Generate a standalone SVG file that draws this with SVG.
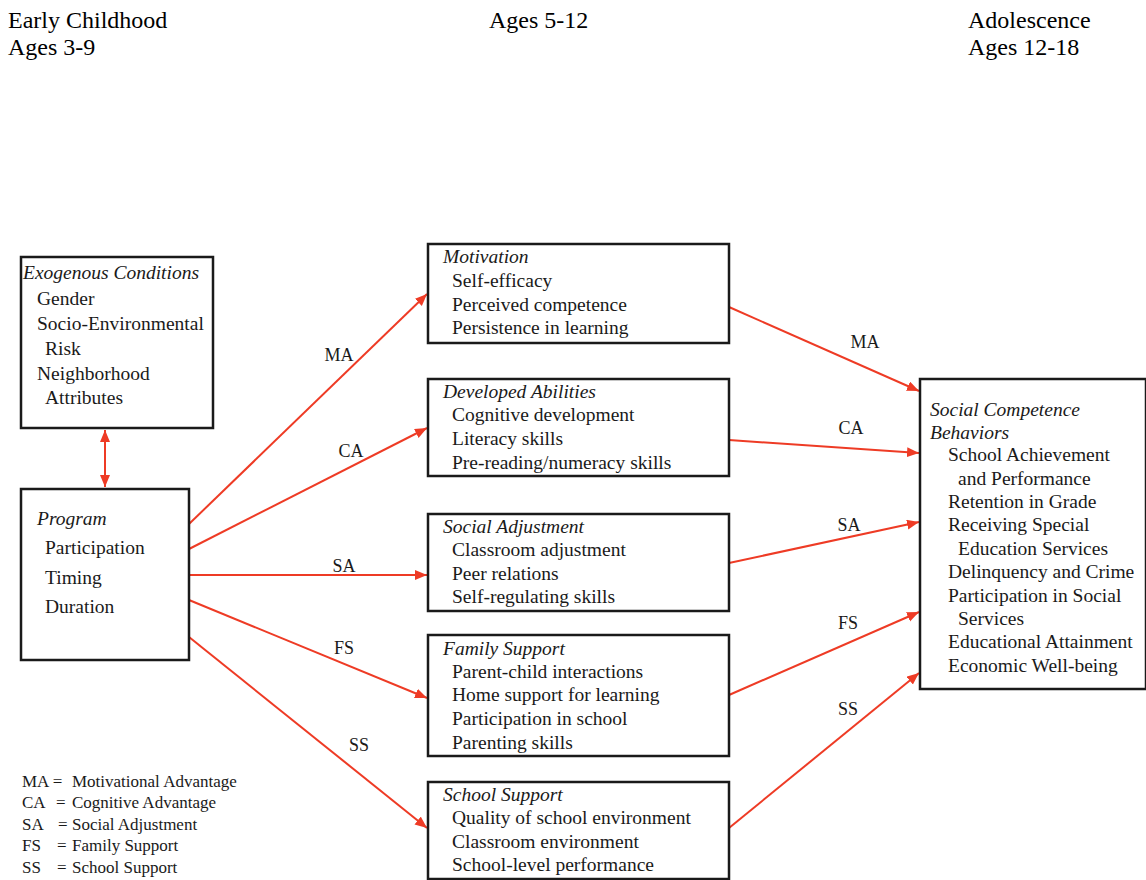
<svg xmlns="http://www.w3.org/2000/svg" width="1146" height="880" viewBox="0 0 1146 880">
<style>
.box{fill:#fff;stroke:#1a1a1a;stroke-width:2.5}
text{font-family:"Liberation Serif","DejaVu Serif",serif}
.t{font-size:19.5px;fill:#1a1a1a}
.ti{font-size:19.5px;font-style:italic;fill:#1a1a1a}
.h{font-size:24px;fill:#000}
.lb{font-size:18px;fill:#1a1a1a}
.lg{font-size:17px;fill:#1a1a1a}
.c{stroke:#ee3b25;stroke-width:2;fill:none}
</style>
<defs>
<marker id="ah" markerUnits="userSpaceOnUse" markerWidth="14" markerHeight="12" refX="12" refY="5" orient="auto">
<path d="M0,0 L12,5 L0,10 Z" fill="#ee3b25"/>
</marker>
<marker id="as" markerUnits="userSpaceOnUse" markerWidth="14" markerHeight="12" refX="0" refY="5" orient="auto">
<path d="M12,0 L0,5 L12,10 Z" fill="#ee3b25"/>
</marker>
</defs>
<rect width="1146" height="880" fill="#fff"/>
<g id="headers">
<text class="h" x="8" y="28">Early Childhood</text>
<text class="h" x="8" y="55">Ages 3-9</text>
<text class="h" x="489" y="28">Ages 5-12</text>
<text class="h" x="968" y="28">Adolescence</text>
<text class="h" x="968" y="55">Ages 12-18</text>
</g>
<g id="connectors">
<line class="c" x1="105" y1="430" x2="105" y2="487" marker-start="url(#as)" marker-end="url(#ah)"/>
<line class="c" x1="189" y1="524" x2="427" y2="294" marker-end="url(#ah)"/>
<line class="c" x1="189" y1="549" x2="427" y2="428" marker-end="url(#ah)"/>
<line class="c" x1="189" y1="575" x2="427" y2="575" marker-end="url(#ah)"/>
<line class="c" x1="189" y1="600" x2="427" y2="698" marker-end="url(#ah)"/>
<line class="c" x1="189" y1="637" x2="427" y2="828" marker-end="url(#ah)"/>
<line class="c" x1="729" y1="307" x2="919" y2="391" marker-end="url(#ah)"/>
<line class="c" x1="729" y1="440" x2="919" y2="453" marker-end="url(#ah)"/>
<line class="c" x1="729" y1="563" x2="919" y2="522" marker-end="url(#ah)"/>
<line class="c" x1="729" y1="695" x2="919" y2="612" marker-end="url(#ah)"/>
<line class="c" x1="729" y1="828" x2="919" y2="673" marker-end="url(#ah)"/>
<text class="lb" x="339" y="361" text-anchor="middle">MA</text>
<text class="lb" x="351" y="457" text-anchor="middle">CA</text>
<text class="lb" x="344" y="572" text-anchor="middle">SA</text>
<text class="lb" x="344" y="654" text-anchor="middle">FS</text>
<text class="lb" x="359" y="751" text-anchor="middle">SS</text>
<text class="lb" x="865" y="348" text-anchor="middle">MA</text>
<text class="lb" x="851" y="434" text-anchor="middle">CA</text>
<text class="lb" x="849" y="531" text-anchor="middle">SA</text>
<text class="lb" x="848" y="629" text-anchor="middle">FS</text>
<text class="lb" x="848" y="715" text-anchor="middle">SS</text>
</g>
<g id="exogenous">
<rect class="box" x="21" y="257" width="192" height="171"/>
<text class="ti" x="23" y="279">Exogenous Conditions</text>
<text class="t" x="37" y="305">Gender</text>
<text class="t" x="37" y="330">Socio-Environmental</text>
<text class="t" x="45" y="355">Risk</text>
<text class="t" x="37" y="380">Neighborhood</text>
<text class="t" x="45" y="404">Attributes</text>
</g>
<g id="program">
<rect class="box" x="21" y="489" width="168" height="171"/>
<text class="ti" x="37" y="525">Program</text>
<text class="t" x="45" y="554">Participation</text>
<text class="t" x="45" y="584">Timing</text>
<text class="t" x="45" y="613">Duration</text>
</g>
<g id="motivation">
<rect class="box" x="428" y="244" width="301" height="99"/>
<text class="ti" x="443" y="263">Motivation</text>
<text class="t" x="452" y="287">Self-efficacy</text>
<text class="t" x="452" y="311">Perceived competence</text>
<text class="t" x="452" y="334">Persistence in learning</text>
</g>
<g id="developed-abilities">
<rect class="box" x="428" y="379" width="301" height="97"/>
<text class="ti" x="443" y="398">Developed Abilities</text>
<text class="t" x="452" y="421">Cognitive development</text>
<text class="t" x="452" y="445">Literacy skills</text>
<text class="t" x="452" y="469">Pre-reading/numeracy skills</text>
</g>
<g id="social-adjustment">
<rect class="box" x="428" y="514" width="301" height="97"/>
<text class="ti" x="443" y="533">Social Adjustment</text>
<text class="t" x="452" y="556">Classroom adjustment</text>
<text class="t" x="452" y="580">Peer relations</text>
<text class="t" x="452" y="603">Self-regulating skills</text>
</g>
<g id="family-support">
<rect class="box" x="428" y="635" width="301" height="121"/>
<text class="ti" x="443" y="655">Family Support</text>
<text class="t" x="452" y="678">Parent-child interactions</text>
<text class="t" x="452" y="701">Home support for learning</text>
<text class="t" x="452" y="725">Participation in school</text>
<text class="t" x="452" y="749">Parenting skills</text>
</g>
<g id="school-support">
<rect class="box" x="428" y="782" width="301" height="97"/>
<text class="ti" x="443" y="801">School Support</text>
<text class="t" x="452" y="824">Quality of school environment</text>
<text class="t" x="452" y="848">Classroom environment</text>
<text class="t" x="452" y="871">School-level performance</text>
</g>
<g id="social-competence">
<rect class="box" x="920" y="379" width="226" height="310"/>
<text class="ti" x="930" y="416">Social Competence</text>
<text class="ti" x="930" y="439">Behaviors</text>
<text class="t" x="948" y="461">School Achievement</text>
<text class="t" x="958" y="485">and Performance</text>
<text class="t" x="948" y="508">Retention in Grade</text>
<text class="t" x="948" y="531">Receiving Special</text>
<text class="t" x="958" y="555">Education Services</text>
<text class="t" x="948" y="578">Delinquency and Crime</text>
<text class="t" x="948" y="602">Participation in Social</text>
<text class="t" x="958" y="625">Services</text>
<text class="t" x="948" y="648">Educational Attainment</text>
<text class="t" x="948" y="672">Economic Well-being</text>
</g>
<g id="legend">
<text class="lg" x="22" y="787">MA =</text><text class="lg" x="72" y="787">Motivational Advantage</text>
<text class="lg" x="22" y="808">CA</text><text class="lg" x="56" y="808">=</text><text class="lg" x="72" y="808">Cognitive Advantage</text>
<text class="lg" x="22" y="830">SA</text><text class="lg" x="58" y="830">=</text><text class="lg" x="72" y="830">Social Adjustment</text>
<text class="lg" x="22" y="851">FS</text><text class="lg" x="57" y="851">=</text><text class="lg" x="72" y="851">Family Support</text>
<text class="lg" x="22" y="873">SS</text><text class="lg" x="57" y="873">=</text><text class="lg" x="72" y="873">School Support</text>
</g>
</svg>
